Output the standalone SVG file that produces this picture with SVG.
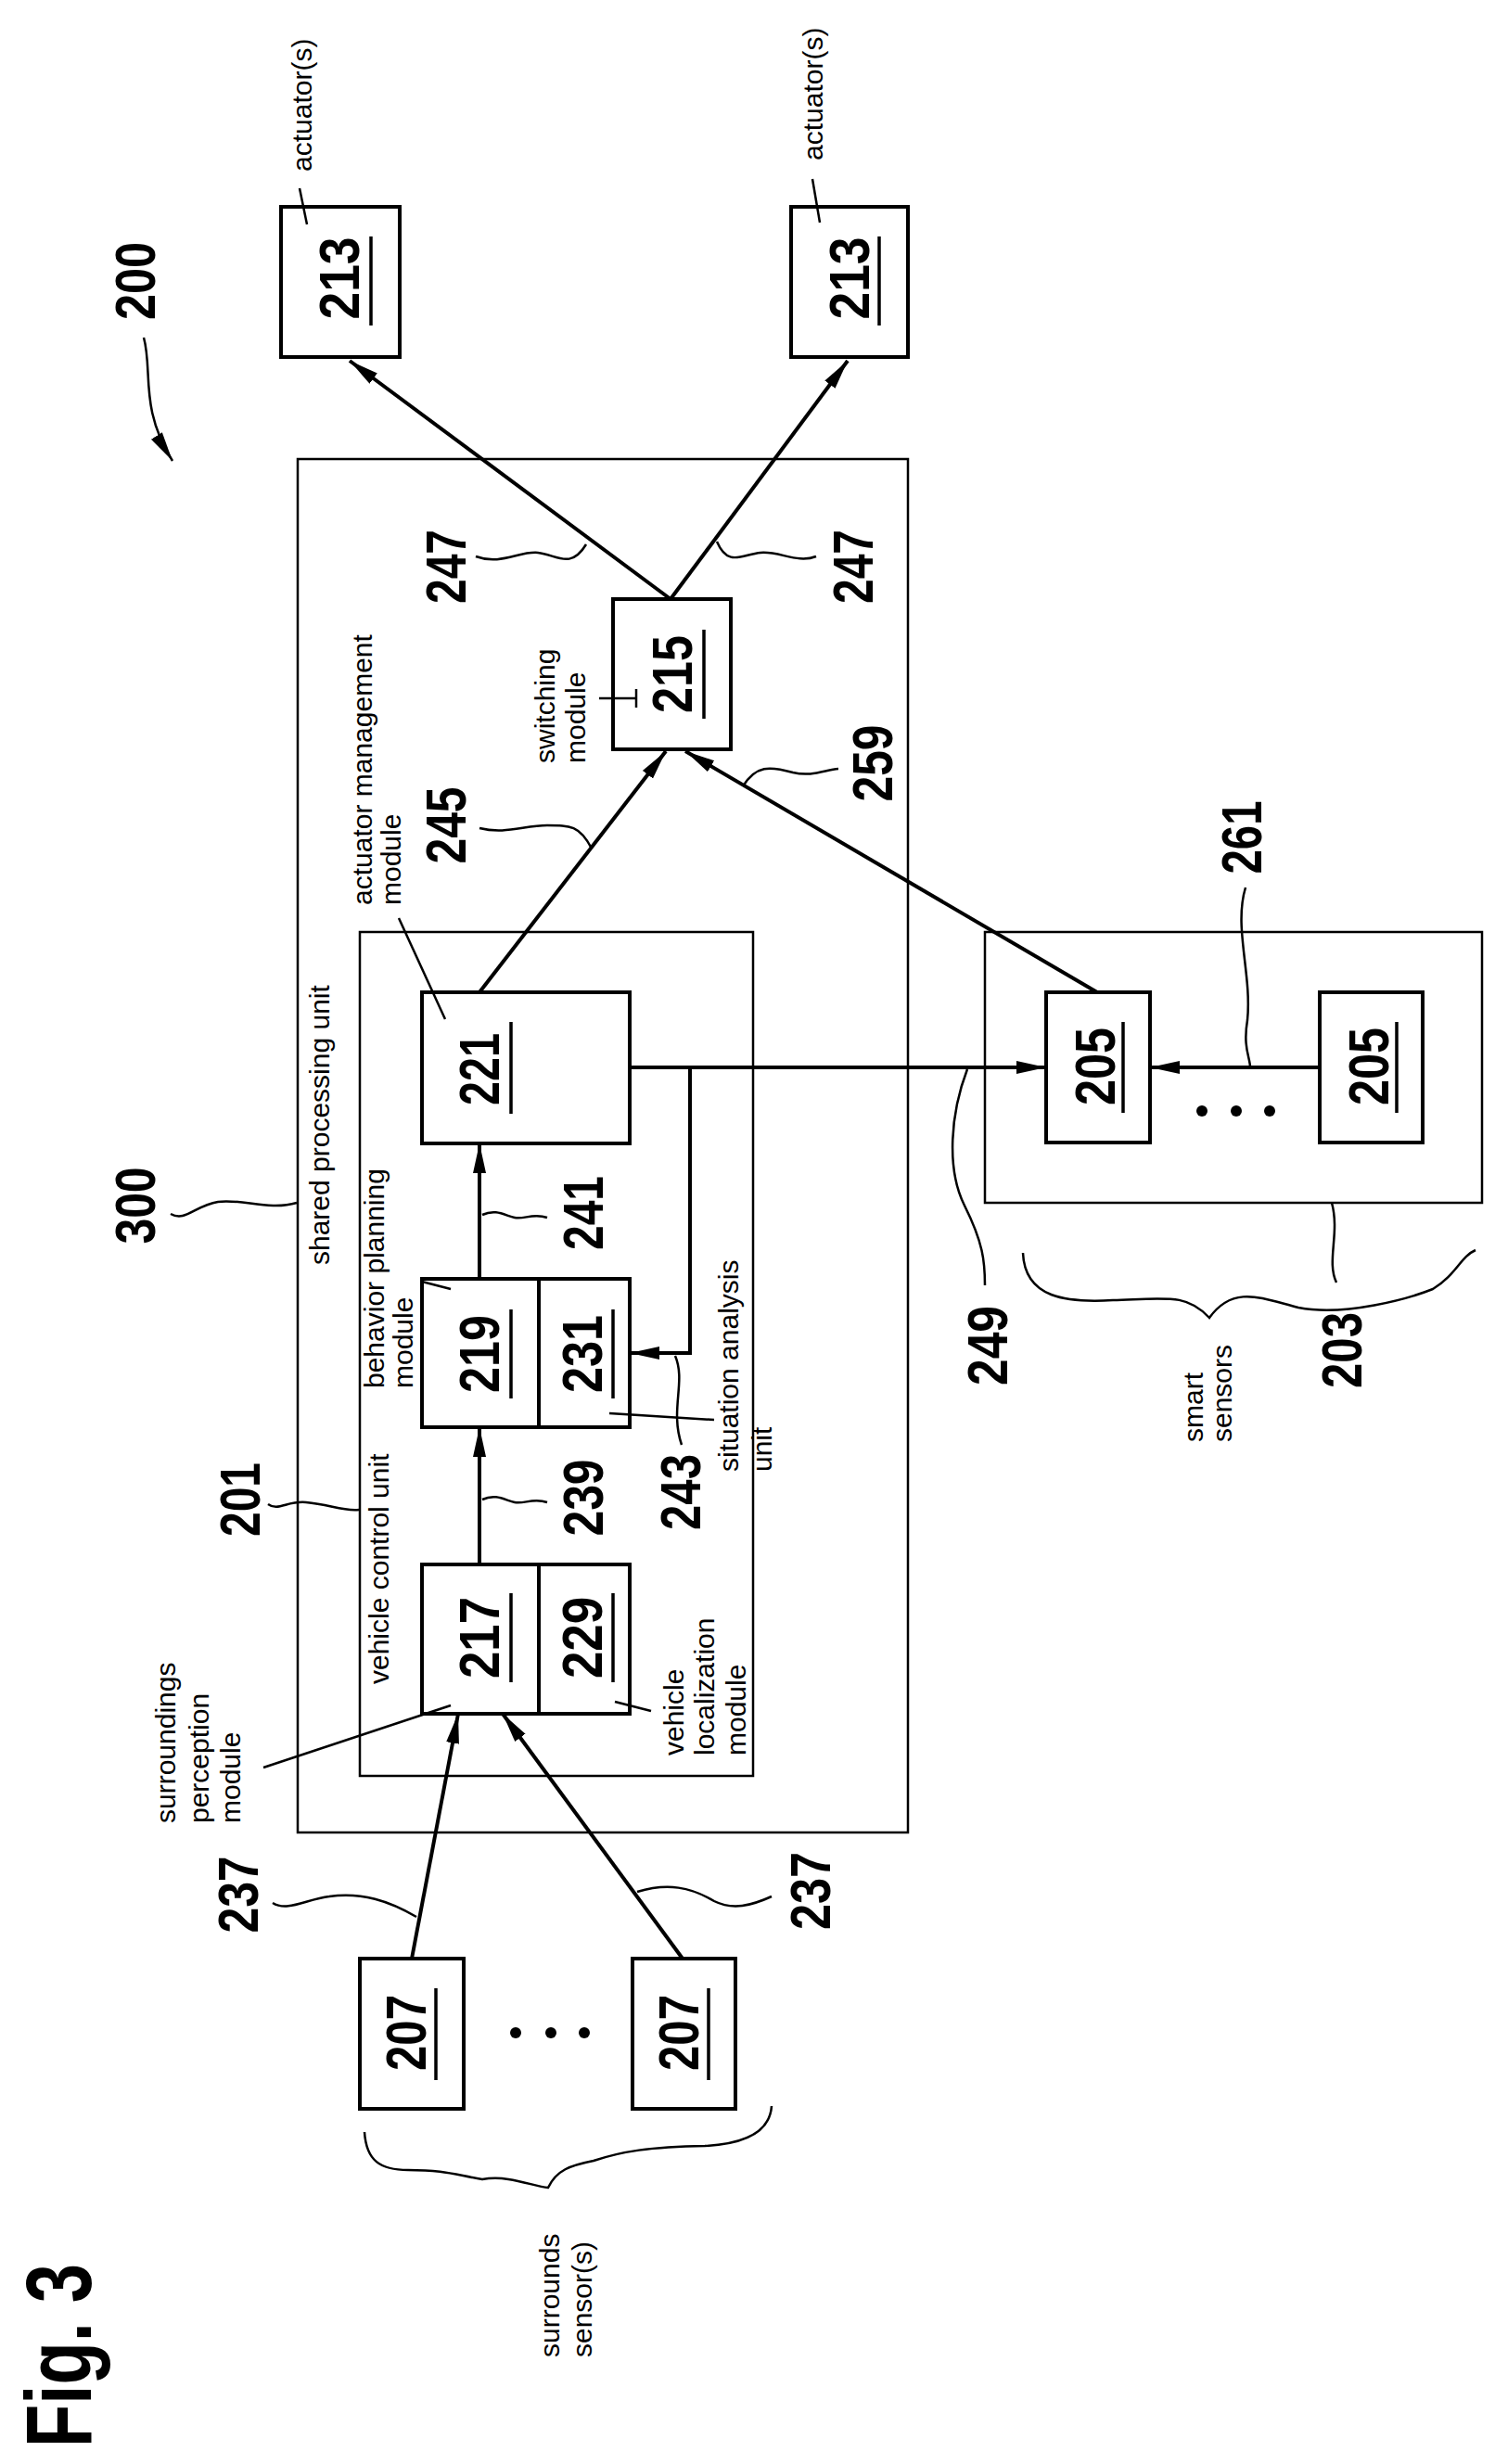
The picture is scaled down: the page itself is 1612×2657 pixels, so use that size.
<svg xmlns="http://www.w3.org/2000/svg" width="1612" height="2657" viewBox="0 0 1612 2657">
<style>
.box{fill:none;stroke:#000;stroke-width:4}
.thin{fill:none;stroke:#000;stroke-width:2.5}
.ln{fill:none;stroke:#000;stroke-width:4}
.lead{fill:none;stroke:#000;stroke-width:2.5}
.num{font-family:"Liberation Sans",Arial,sans-serif;font-weight:bold;font-size:62px;text-anchor:middle}
.t{font-family:"Liberation Sans",Arial,sans-serif;font-size:30px;text-anchor:start}
.ul{stroke:#000;stroke-width:3.5}
</style>
<defs>
<marker id="ah" markerUnits="userSpaceOnUse" markerWidth="34" markerHeight="16" refX="32" refY="8" orient="auto">
<path d="M0,1 L32,8 L0,15 Z" fill="#000"/>
</marker>
</defs>
<rect width="1612" height="2657" fill="#fff"/>
<g id="n300"><rect x="321" y="495" width="658" height="1481" class="thin"/>
<text class="t" transform="translate(344,1364) rotate(-90)" dy="0.35em">shared processing unit</text></g>
<g id="n201"><rect x="388" y="1005" width="424" height="910" class="thin"/>
<text class="t" transform="translate(408,1816) rotate(-90)" dy="0.35em">vehicle control unit</text></g>
<g id="n203"><rect x="1062" y="1005" width="536" height="292" class="thin"/></g>

<g id="n213a"><rect x="303" y="223" width="128" height="162" class="box"/>
<text class="num" transform="translate(365,300) rotate(-90)" dy="0.36em" textLength="89" lengthAdjust="spacingAndGlyphs">213</text>
<line x1="400" y1="255" x2="400" y2="351" class="ul"/></g>
<g id="n213b"><rect x="853" y="223" width="126" height="162" class="box"/>
<text class="num" transform="translate(915,300) rotate(-90)" dy="0.36em" textLength="89" lengthAdjust="spacingAndGlyphs">213</text>
<line x1="948" y1="255" x2="948" y2="351" class="ul"/></g>
<g id="n215"><rect x="661" y="646" width="127" height="162" class="box"/>
<text class="num" transform="translate(724,727) rotate(-90)" dy="0.36em" textLength="84" lengthAdjust="spacingAndGlyphs">215</text>
<line x1="759" y1="679" x2="759" y2="775" class="ul"/></g>
<g id="n221"><rect x="455" y="1070" width="224" height="163" class="box"/>
<text class="num" transform="translate(516,1153) rotate(-90)" dy="0.36em" textLength="78" lengthAdjust="spacingAndGlyphs">221</text>
<line x1="551" y1="1102" x2="551" y2="1201" class="ul"/></g>
<g id="n219"><rect x="455" y="1379" width="224" height="160" class="box"/><line x1="581" y1="1379" x2="581" y2="1539" class="box"/>
<text class="num" transform="translate(516,1460) rotate(-90)" dy="0.36em" textLength="84" lengthAdjust="spacingAndGlyphs">219</text>
<line x1="551" y1="1412" x2="551" y2="1508" class="ul"/>
<text class="num" transform="translate(627,1460) rotate(-90)" dy="0.36em" textLength="84" lengthAdjust="spacingAndGlyphs">231</text>
<line x1="661" y1="1412" x2="661" y2="1508" class="ul"/></g>
<g id="n217"><rect x="455" y="1687" width="224" height="161" class="box"/><line x1="581" y1="1687" x2="581" y2="1848" class="box"/>
<text class="num" transform="translate(516,1766) rotate(-90)" dy="0.36em" textLength="88" lengthAdjust="spacingAndGlyphs">217</text>
<line x1="551" y1="1718" x2="551" y2="1814" class="ul"/>
<text class="num" transform="translate(627,1766) rotate(-90)" dy="0.36em" textLength="88" lengthAdjust="spacingAndGlyphs">229</text>
<line x1="661" y1="1718" x2="661" y2="1814" class="ul"/></g>
<g id="n205a"><rect x="1128" y="1070" width="112" height="162" class="box"/>
<text class="num" transform="translate(1180,1150) rotate(-90)" dy="0.36em" textLength="84" lengthAdjust="spacingAndGlyphs">205</text>
<line x1="1211" y1="1102" x2="1211" y2="1200" class="ul"/></g>
<g id="n205b"><rect x="1423" y="1070" width="111" height="162" class="box"/>
<text class="num" transform="translate(1475,1150) rotate(-90)" dy="0.36em" textLength="84" lengthAdjust="spacingAndGlyphs">205</text>
<line x1="1506" y1="1102" x2="1506" y2="1200" class="ul"/></g>
<g id="n207a"><rect x="388" y="2112" width="112" height="162" class="box"/>
<text class="num" transform="translate(437,2192) rotate(-90)" dy="0.36em" textLength="82" lengthAdjust="spacingAndGlyphs">207</text>
<line x1="470" y1="2144" x2="470" y2="2243" class="ul"/></g>
<g id="n207b"><rect x="682" y="2112" width="111" height="162" class="box"/>
<text class="num" transform="translate(731,2192) rotate(-90)" dy="0.36em" textLength="82" lengthAdjust="spacingAndGlyphs">207</text>
<line x1="764" y1="2144" x2="764" y2="2243" class="ul"/></g>

<g id="dots" fill="#000">
<circle cx="1296" cy="1198" r="6"/><circle cx="1333" cy="1198" r="6"/><circle cx="1369" cy="1198" r="6"/>
<circle cx="556" cy="2192" r="6"/><circle cx="594" cy="2192" r="6"/><circle cx="630" cy="2192" r="6"/>
</g>

<g id="connectors">
<line x1="723" y1="646" x2="377" y2="389" class="ln" marker-end="url(#ah)"/>
<line x1="723" y1="646" x2="914" y2="389" class="ln" marker-end="url(#ah)"/>
<line x1="517" y1="1070" x2="718" y2="810" class="ln" marker-end="url(#ah)"/>
<line x1="1183" y1="1070" x2="739" y2="810" class="ln" marker-end="url(#ah)"/>
<line x1="517" y1="1687" x2="517" y2="1539" class="ln" marker-end="url(#ah)"/>
<line x1="517" y1="1379" x2="517" y2="1233" class="ln" marker-end="url(#ah)"/>
<line x1="679" y1="1151" x2="1128" y2="1151" class="ln" marker-end="url(#ah)"/>
<polyline points="744,1151 744,1459 679,1459" class="ln" marker-end="url(#ah)"/>
<line x1="1423" y1="1151" x2="1240" y2="1151" class="ln" marker-end="url(#ah)"/>
<line x1="444" y1="2112" x2="494" y2="1848" class="ln" marker-end="url(#ah)"/>
<line x1="736" y1="2112" x2="542" y2="1848" class="ln" marker-end="url(#ah)"/>
<path d="M155,364 C165,400 150,440 186,497" class="lead" marker-end="url(#ah)"/>
<!-- leaders -->
<path d="M632,587 C615,615 600,598 580,596 C560,594 540,610 513,600" class="lead"/>
<path d="M773,584 C785,612 800,598 820,596 C840,594 860,608 880,600" class="lead"/>
<path d="M638,915 C625,890 615,890 590,890 C565,890 545,900 517,893" class="lead"/>
<path d="M801,848 C815,825 830,826 855,833 C875,838 890,830 904,829" class="lead"/>
<path d="M1343,957 C1330,1000 1350,1050 1345,1100 C1340,1130 1348,1140 1348,1151" class="lead"/>
<line x1="323" y1="203" x2="331" y2="242" class="lead"/>
<line x1="876" y1="193" x2="884" y2="240" class="lead"/>
<line x1="430" y1="990" x2="480" y2="1099" class="lead"/>
<line x1="687" y1="753" x2="646" y2="753" class="lead"/>
<line x1="686" y1="743" x2="686" y2="763" class="lead"/>
<path d="M184,1309 C200,1318 210,1300 235,1296 C260,1292 290,1306 320,1297" class="lead"/>
<path d="M289,1622 C300,1630 310,1618 330,1620 C355,1622 370,1630 387,1628" class="lead"/>
<path d="M520,1617 C535,1610 545,1618 555,1620 C565,1622 575,1615 590,1620" class="lead"/>
<path d="M520,1310 C535,1303 545,1311 555,1313 C565,1315 575,1308 590,1313" class="lead"/>
<path d="M728,1462 C740,1490 722,1520 735,1558" class="lead"/>
<line x1="657" y1="1524" x2="770" y2="1531" class="lead"/>
<line x1="455" y1="1382" x2="486" y2="1390" class="lead"/>
<line x1="284" y1="1906" x2="486" y2="1839" class="lead"/>
<line x1="663" y1="1835" x2="702" y2="1845" class="lead"/>
<path d="M1043,1153 C1025,1200 1020,1260 1040,1300 C1060,1340 1062,1360 1062,1386" class="lead"/>
<path d="M1436,1297 C1445,1330 1430,1360 1441,1383" class="lead"/>
<path d="M1103,1351 C1105,1400 1150,1405 1200,1402 C1260,1400 1280,1395 1304,1421 C1330,1385 1360,1400 1400,1410 C1450,1420 1520,1400 1545,1390 C1570,1375 1575,1355 1591,1348" class="lead"/>
<path d="M294,2052 C310,2062 330,2048 355,2045 C390,2040 420,2050 449,2067" class="lead"/>
<path d="M832,2045 C810,2055 790,2060 770,2050 C745,2035 720,2030 687,2040" class="lead"/>
<path d="M393,2299 C395,2330 410,2340 440,2340 C480,2340 490,2345 520,2350 C550,2345 575,2358 591,2359 C600,2340 615,2335 640,2330 C670,2320 700,2315 760,2314 C800,2312 830,2300 832,2271" class="lead"/>
</g>

<g id="labels">
<text class="num" transform="translate(145,303) rotate(-90)" dy="0.36em" textLength="84" lengthAdjust="spacingAndGlyphs">200</text>
<text class="num" transform="translate(480,611) rotate(-90)" dy="0.36em" textLength="80" lengthAdjust="spacingAndGlyphs">247</text>
<text class="num" transform="translate(919,611) rotate(-90)" dy="0.36em" textLength="80" lengthAdjust="spacingAndGlyphs">247</text>
<text class="num" transform="translate(480,890) rotate(-90)" dy="0.36em" textLength="83" lengthAdjust="spacingAndGlyphs">245</text>
<text class="num" transform="translate(940,823) rotate(-90)" dy="0.36em" textLength="83" lengthAdjust="spacingAndGlyphs">259</text>
<text class="num" transform="translate(1338,903) rotate(-90)" dy="0.36em" textLength="79" lengthAdjust="spacingAndGlyphs">261</text>
<text class="num" transform="translate(145,1300) rotate(-90)" dy="0.36em" textLength="83" lengthAdjust="spacingAndGlyphs">300</text>
<text class="num" transform="translate(258,1617) rotate(-90)" dy="0.36em" textLength="80" lengthAdjust="spacingAndGlyphs">201</text>
<text class="num" transform="translate(628,1615) rotate(-90)" dy="0.36em" textLength="83" lengthAdjust="spacingAndGlyphs">239</text>
<text class="num" transform="translate(628,1308) rotate(-90)" dy="0.36em" textLength="80" lengthAdjust="spacingAndGlyphs">241</text>
<text class="num" transform="translate(733,1609) rotate(-90)" dy="0.36em" textLength="82" lengthAdjust="spacingAndGlyphs">243</text>
<text class="num" transform="translate(1064,1451) rotate(-90)" dy="0.36em" textLength="86" lengthAdjust="spacingAndGlyphs">249</text>
<text class="num" transform="translate(1446,1456) rotate(-90)" dy="0.36em" textLength="82" lengthAdjust="spacingAndGlyphs">203</text>
<text class="num" transform="translate(256,2043) rotate(-90)" dy="0.36em" textLength="83" lengthAdjust="spacingAndGlyphs">237</text>
<text class="num" transform="translate(873,2039) rotate(-90)" dy="0.36em" textLength="84" lengthAdjust="spacingAndGlyphs">237</text>
<text class="num" transform="translate(62,2540) rotate(-90)" dy="0.36em" style="font-size:100px" textLength="198" lengthAdjust="spacingAndGlyphs">Fig. 3</text>

<text class="t" transform="translate(325,185) rotate(-90)" dy="0.35em">actuator(s)</text>
<text class="t" transform="translate(876,173) rotate(-90)" dy="0.35em">actuator(s)</text>
<text class="t" transform="translate(390,976) rotate(-90)" dy="0.35em">actuator management</text>
<text class="t" transform="translate(421,976) rotate(-90)" dy="0.35em">module</text>
<text class="t" transform="translate(587,823) rotate(-90)" dy="0.35em">switching</text>
<text class="t" transform="translate(620,823) rotate(-90)" dy="0.35em">module</text>
<text class="t" transform="translate(403,1497) rotate(-90)" dy="0.35em">behavior planning</text>
<text class="t" transform="translate(434,1497) rotate(-90)" dy="0.35em">module</text>
<text class="t" transform="translate(785,1587) rotate(-90)" dy="0.35em">situation analysis</text>
<text class="t" transform="translate(821,1587) rotate(-90)" dy="0.35em">unit</text>
<text class="t" transform="translate(178,1966) rotate(-90)" dy="0.35em">surroundings</text>
<text class="t" transform="translate(214,1966) rotate(-90)" dy="0.35em">perception</text>
<text class="t" transform="translate(248,1966) rotate(-90)" dy="0.35em">module</text>
<text class="t" transform="translate(726,1893) rotate(-90)" dy="0.35em">vehicle</text>
<text class="t" transform="translate(759,1893) rotate(-90)" dy="0.35em">localization</text>
<text class="t" transform="translate(793,1893) rotate(-90)" dy="0.35em">module</text>
<text class="t" transform="translate(1286,1555) rotate(-90)" dy="0.35em">smart</text>
<text class="t" transform="translate(1317,1555) rotate(-90)" dy="0.35em">sensors</text>
<text class="t" transform="translate(592,2542) rotate(-90)" dy="0.35em">surrounds</text>
<text class="t" transform="translate(627,2542) rotate(-90)" dy="0.35em">sensor(s)</text>
</g>
</svg>
